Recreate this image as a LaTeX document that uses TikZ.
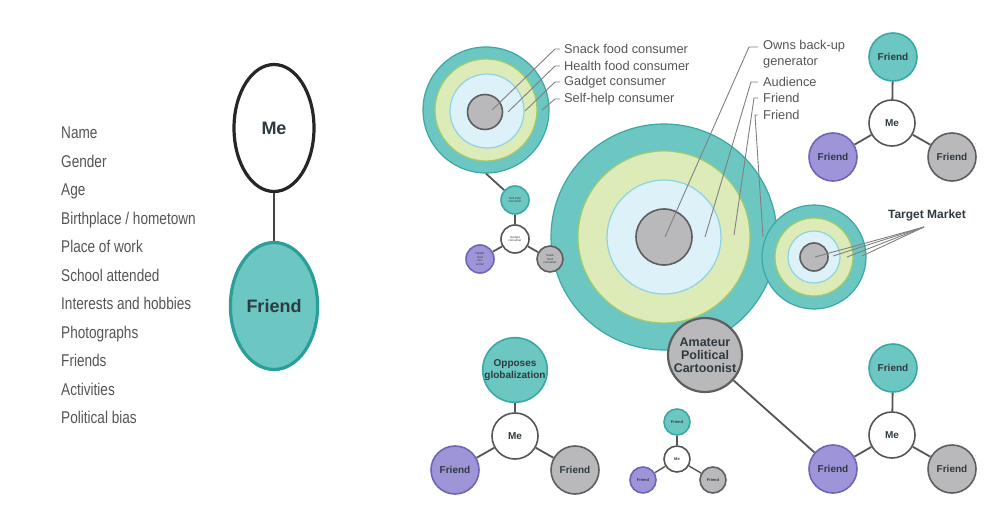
\documentclass[tikz,border=0pt]{standalone}
\usepackage{fontspec}
\setmainfont{Liberation Sans}
\newfontfamily\narrowfont[FakeStretch=0.8]{Liberation Sans}
\usepackage{xcolor}
\usepackage{tikz}
\usetikzlibrary{positioning,shapes.geometric}
\definecolor{tealfill}{HTML}{6CC7C2}
\definecolor{tealline}{HTML}{3AA8A3}
\definecolor{tealdeep}{HTML}{2A9E99}
\definecolor{greenfill}{HTML}{DDEBB8}
\definecolor{greenline}{HTML}{9FCB6A}
\definecolor{bluefill}{HTML}{DDF1F8}
\definecolor{blueline}{HTML}{8ED3E3}
\definecolor{coregray}{HTML}{B9B9BB}
\definecolor{coreline}{HTML}{5E5E60}
\definecolor{violetfill}{HTML}{9E95D8}
\definecolor{violetline}{HTML}{6E64B8}
\definecolor{inkgray}{HTML}{555555}
\definecolor{slate}{HTML}{2F3A40}

\tikzset{
  ring/.style={circle,inner sep=0pt,line width=1.2pt},
  tealring/.style={ring,fill=tealfill,draw=tealline},
  greenring/.style={ring,fill=greenfill,draw=greenline},
  bluering/.style={ring,fill=bluefill,draw=blueline},
  corering/.style={ring,fill=coregray,draw=coreline,line width=1.6pt},
  pal/.style={circle,inner sep=0pt,line width=1.6pt,align=center,text=slate,
    font=\bfseries\fontsize{10}{10}\selectfont},
  tealpal/.style={pal,fill=tealfill,draw=tealline},
  violetpal/.style={pal,fill=violetfill,draw=violetline},
  graypal/.style={pal,fill=coregray,draw=coreline},
  mepal/.style={pal,fill=white,draw=inkgray},
  tie/.style={draw=inkgray,line width=1.8pt},
  leader/.style={draw=gray,line width=0.9pt},
  ringlabel/.style={anchor=west,inner sep=0pt,text=inkgray,
    font=\fontsize{12.8}{16.5}\selectfont}
}

\begin{document}
\begin{tikzpicture}[x=1pt,y=-1pt]
  \useasboundingbox[fill=white] (0,0) rectangle (985,508);

  % profile fields
  \node[anchor=north west,inner sep=0pt,align=left,text=inkgray,
        font=\narrowfont\fontsize{17}{28.5}\selectfont] (fields) at (61,127) {
    Name\\Gender\\Age\\Birthplace / hometown\\Place of work\\School attended\\
    Interests and hobbies\\Photographs\\Friends\\Activities\\Political bias};

  % me and friend
  \node[ellipse,draw=black!85,line width=3.2pt,minimum width=80pt,minimum height=127pt,
        font=\bfseries\fontsize{18}{18}\selectfont,text=slate] (bigme) at (274,128) {Me};
  \node[ellipse,fill=tealfill,draw=tealdeep,line width=3.2pt,minimum width=80pt,
        minimum height=127pt,font=\bfseries\fontsize{18}{18}\selectfont,text=slate]
        (bigfriend) at (274,306) {Friend};
  \draw[tie,draw=inkgray!80!black] (bigme) -- (bigfriend);

  % consumer rings
  \node[tealring,minimum size=126pt] (snack) at (486,110) {};
  \node[greenring,minimum size=102pt] (snackgreen) at (486,110) {};
  \node[bluering,minimum size=74pt] (snackblue) at (487,111) {};
  \node[corering,minimum size=35pt] (snackcore) at (485,112) {};
  \coordinate (snackA) at (492,110);
  \coordinate (snackB) at (508,112);
  \coordinate (snackC) at (525,111);
  \coordinate (snackD) at (542,110);
  \node[ringlabel] (lsnack) at (564,49) {Snack food consumer};
  \node[ringlabel] (lhealth) at (564,66) {Health food consumer};
  \node[ringlabel] (lgadget) at (564,82) {Gadget consumer};
  \node[ringlabel] (lself) at (564,99) {Self-help consumer};
  \draw[leader] ([xshift=-4pt]lsnack.west) -- ++(-5,0) -- (snackA);
  \draw[leader] ([xshift=-4pt]lhealth.west) -- ++(-5,0) -- (snackB);
  \draw[leader] ([xshift=-4pt]lgadget.west) -- ++(-5,0) -- (snackC);
  \draw[leader] ([xshift=-4pt]lself.west) -- ++(-5,0) -- (snackD);

  % audience rings
  \node[tealring,minimum size=226pt] (audience) at (664,237) {};
  \node[greenring,minimum size=172pt] (audiencegreen) at (664,237) {};
  \node[bluering,minimum size=114pt] (audienceblue) at (664,237) {};
  \node[corering,minimum size=56pt] (audiencecore) at (664,237) {};
  \coordinate (audA) at (665,237);
  \coordinate (audB) at (705,237);
  \coordinate (audC) at (734,235);
  \coordinate (audD) at (763,237);
  \node[ringlabel,anchor=north west,align=left] (lowns) at (763,40) {Owns back-up\\generator};
  \node[ringlabel] (laud) at (763,82) {Audience};
  \node[ringlabel] (lfrienda) at (763,98) {Friend};
  \node[ringlabel] (lfriendb) at (763,115) {Friend};
  \draw[leader] ([xshift=-5pt,yshift=-7pt]lowns.north west) -- ++(-9,0) -- (audA);
  \draw[leader] ([xshift=-5pt]laud.west) -- ++(-7,0) -- (audB);
  \draw[leader] ([xshift=-5pt]lfrienda.west) -- ++(-4,0) -- (audC);
  \draw[leader] ([xshift=-5pt]lfriendb.west) -- ++(-3,0) -- (audD);

  % small consumer triad
  \node[tealpal,minimum size=28pt,font=\fontsize{3}{3.4}\selectfont] (midteal) at (515,200) {Self-help\\consumer};
  \node[mepal,minimum size=28pt,font=\fontsize{3}{3.4}\selectfont] (midme) at (515,239) {Gadget\\consumer};
  \node[violetpal,minimum size=28pt,font=\fontsize{3}{3.4}\selectfont] (midviolet) at (480,259) {Health\\food\\con-\\sumer};
  \node[graypal,minimum size=26pt,font=\fontsize{3}{3.4}\selectfont] (midgray) at (550,259) {Snack\\food\\consumer};
  \draw[tie] (snack.south) -- (midteal);
  \draw[tie] (midme) -- (midteal);
  \draw[tie] (midme) -- (midviolet);
  \draw[tie] (midme) -- (midgray);

  % target market rings
  \node[tealring,minimum size=104pt] (target) at (814,257) {};
  \node[greenring,minimum size=78pt] (targetgreen) at (814,257) {};
  \node[bluering,minimum size=52pt] (targetblue) at (814,257) {};
  \node[corering,minimum size=28pt] (targetcore) at (814,257) {};
  \node[text=slate,font=\bfseries\fontsize{12}{12}\selectfont] (ltarget) at (927,215) {Target Market};
  \coordinate (tgtfan) at (924,227);
  \coordinate (tgtA) at (815,257);
  \coordinate (tgtB) at (833,256);
  \coordinate (tgtC) at (847,257);
  \coordinate (tgtD) at (862,256);
  \draw[leader] (tgtfan) -- (tgtA);
  \draw[leader] (tgtfan) -- (tgtB);
  \draw[leader] (tgtfan) -- (tgtC);
  \draw[leader] (tgtfan) -- (tgtD);

  % cartoonist
  \node[graypal,minimum size=74pt,line width=2.2pt,font=\bfseries\fontsize{12.5}{13}\selectfont]
        (cartoonist) at (705,355) {Amateur\\Political\\Cartoonist};

  % top right triad
  \node[tealpal,minimum size=48pt] (trteal) at (893,57) {Friend};
  \node[mepal,minimum size=46pt] (trme) at (892,123) {Me};
  \node[violetpal,minimum size=48pt] (trviolet) at (833,157) {Friend};
  \node[graypal,minimum size=48pt] (trgray) at (952,157) {Friend};
  \draw[tie] (trme) -- (trteal);
  \draw[tie] (trme) -- (trviolet);
  \draw[tie] (trme) -- (trgray);

  % bottom left triad
  \node[tealpal,minimum size=47pt,font=\bfseries\fontsize{10}{12}\selectfont] (blteal) at (515,370) {Opposes\\globalization};
  \node[mepal,minimum size=46pt] (blme) at (515,436) {Me};
  \node[violetpal,minimum size=48pt] (blviolet) at (455,470) {Friend};
  \node[graypal,minimum size=48pt] (blgray) at (575,470) {Friend};
  \draw[tie] (blme) -- (blteal);
  \draw[tie] (blme) -- (blviolet);
  \draw[tie] (blme) -- (blgray);

  % tiny triad
  \node[tealpal,minimum size=26pt,font=\bfseries\fontsize{4}{4}\selectfont] (smteal) at (677,422) {Friend};
  \node[mepal,minimum size=26pt,font=\bfseries\fontsize{4}{4}\selectfont] (smme) at (677,459) {Me};
  \node[violetpal,minimum size=26pt,font=\bfseries\fontsize{4}{4}\selectfont] (smviolet) at (643,480) {Friend};
  \node[graypal,minimum size=26pt,font=\bfseries\fontsize{4}{4}\selectfont] (smgray) at (713,480) {Friend};
  \draw[tie,line width=1.4pt] (smme) -- (smteal);
  \draw[tie,line width=1.4pt] (smme) -- (smviolet);
  \draw[tie,line width=1.4pt] (smme) -- (smgray);

  % bottom right triad
  \node[tealpal,minimum size=48pt] (brteal) at (893,368) {Friend};
  \node[mepal,minimum size=46pt] (brme) at (892,435) {Me};
  \node[violetpal,minimum size=48pt] (brviolet) at (833,469) {Friend};
  \node[graypal,minimum size=48pt] (brgray) at (952,469) {Friend};
  \draw[tie] (brme) -- (brteal);
  \draw[tie] (brme) -- (brviolet);
  \draw[tie] (brme) -- (brgray);
  \draw[tie] (cartoonist) -- (brviolet);
\end{tikzpicture}
\end{document}
